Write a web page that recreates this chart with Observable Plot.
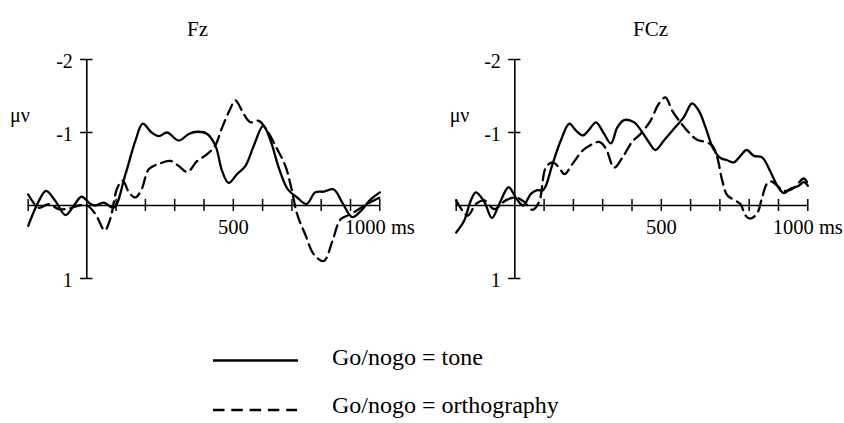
<!DOCTYPE html>
<html><head><meta charset="utf-8">
<script src="https://cdn.jsdelivr.net/npm/d3@7"></script>
<script src="https://cdn.jsdelivr.net/npm/@observablehq/plot@0.6"></script>
<style>
body{margin:0;background:#fff;}
#wrap{position:relative;width:844px;height:423px;overflow:hidden;font-family:'Liberation Serif','Tinos','Times New Roman','DejaVu Serif',serif;color:#000;}
#wrap > svg{position:absolute;}
#wrap text{font-family:'Liberation Serif','Tinos','Times New Roman','DejaVu Serif',serif !important;}
</style></head><body><div id="wrap"></div>
<script>
// ---- data ----
const panelNames = ["Fz", "FCz"];
const seriesNames = ["Go/nogo = tone", "Go/nogo = orthography"];
const xTickValues = [-200, 100, 200, 300, 400, 500, 600, 700, 800, 900, 1000];
const xLabelValues = [500, 1000];
const xLabelTexts = ["500", "1000 ms"];
const yTickValues = [-2, -1, 1];
const yTickLabels = ["-2", "-1", "1"];
const unitLabel = "μν";

// Fz, tone (solid)
const fzToneT = [-200,-164,-139,-107,-73,-44,-18,13,30,58,92,132,166,191,221,246,274,314,348,377,411,439,462,484,513,541,570,602,627,655,686,718,750,780,809,843,872,906,934,968,1000];
const fzToneV = [0.28,-0.06,-0.2,-0.06,0.13,0,-0.12,-0.02,0,-0.04,0.03,-0.43,-0.89,-1.12,-1.0,-0.95,-1.0,-0.89,-0.98,-1.01,-0.98,-0.82,-0.47,-0.31,-0.43,-0.54,-0.82,-1.09,-0.89,-0.52,-0.22,-0.11,-0.02,-0.18,-0.19,-0.22,-0.04,0.16,0.08,-0.08,-0.18];
// Fz, orthography (dashed)
const fzOrthT = [-200,-164,-130,-96,-61,-27,1,30,61,81,104,123,144,166,187,212,246,286,314,343,377,410,438,460,487,507,536,559,587,616,650,678,698,718,746,775,809,838,866,900,957,1000];
const fzOrthV = [-0.15,0.03,-0.02,0.05,0.04,0,0,0.12,0.34,0.17,-0.24,-0.34,-0.18,-0.11,-0.22,-0.5,-0.57,-0.61,-0.54,-0.46,-0.61,-0.7,-0.82,-1.05,-1.3,-1.44,-1.25,-1.14,-1.16,-1.02,-0.77,-0.54,-0.24,0.12,0.4,0.67,0.76,0.49,0.19,0.12,-0.02,-0.11];
// FCz, tone (solid)
const fczToneT = [-200,-173,-150,-133,-104,-78,-53,-21,6,29,55,77,97,129,157,186,208,233,254,277,305,328,350,373,407,429,457,480,509,543,577,605,628,651,677,702,725,747,770,791,816,844,873,896,918,941,969,986,1000];
const fczToneV = [0.37,0.21,-0.07,-0.18,-0.05,0.17,-0.02,-0.25,-0.09,0,-0.16,-0.21,-0.21,-0.57,-0.89,-1.12,-1.03,-0.96,-1.04,-1.14,-0.98,-0.85,-1.07,-1.17,-1.14,-1.04,-0.87,-0.76,-0.89,-1.05,-1.21,-1.40,-1.30,-1.07,-0.78,-0.65,-0.62,-0.59,-0.68,-0.76,-0.68,-0.66,-0.46,-0.27,-0.17,-0.23,-0.27,-0.32,-0.27];
// FCz, orthography (dashed)
const fczOrthT = [-200,-161,-133,-104,-70,-31,3,32,60,83,106,129,151,169,197,231,265,288,311,339,368,400,429,463,491,514,537,565,594,622,651,674,691,708,725,747,770,788,804,827,844,861,875,896,918,952,986,1000];
const fczOrthV = [-0.07,0.14,-0.02,-0.07,0.05,-0.07,-0.11,-0.05,0.06,-0.05,-0.52,-0.59,-0.52,-0.43,-0.57,-0.75,-0.84,-0.87,-0.78,-0.52,-0.66,-0.87,-0.98,-1.16,-1.39,-1.48,-1.3,-1.14,-1.0,-0.9,-0.87,-0.82,-0.66,-0.34,-0.14,-0.08,-0.02,0.14,0.18,0.11,-0.11,-0.30,-0.33,-0.27,-0.2,-0.24,-0.37,-0.3];

// ---- build ----
const FONT = "'Liberation Serif','Tinos','Times New Roman','DejaVu Serif',serif";
const DASH = "11,6";
const toRows = (T, V) => T.map((t, i) => ({t, v: V[i]}));

const layout = [
  {left: 0,   marginLeft: 27.7, marginRight: 42.7, titleDx: -6.5, muDx: -8.4},
  {left: 422, marginLeft: 33.7, marginRight: 36.7, titleDx: 18.5, muDx: 3.3}
];
const series = [
  [toRows(fzToneT, fzToneV), toRows(fzOrthT, fzOrthV)],
  [toRows(fczToneT, fczToneV), toRows(fczOrthT, fczOrthV)]
];

const wrap = document.getElementById("wrap");

panelNames.forEach((name, p) => {
  const L = layout[p];
  const [tone, orth] = series[p];
  const svg = Plot.plot({
    width: 422, height: 300,
    marginLeft: L.marginLeft, marginRight: L.marginRight, marginTop: 59, marginBottom: 22,
    x: {domain: [-200, 1000], axis: null},
    y: {domain: [-2, 1], reverse: true, axis: null},
    style: {fontFamily: FONT, fontSize: "20px", background: "transparent", overflow: "visible", color: "#000"},
    marks: [
      Plot.ruleY([0], {x1: -200, x2: 1000, strokeWidth: 1.6}),
      Plot.ruleX([0], {y1: -2, y2: 1, strokeWidth: 1.6}),
      Plot.ruleX(xTickValues, {x: d => d, y1: -0.082, y2: 0.082, strokeWidth: 1.5}),
      Plot.ruleY(yTickValues, {y: d => d, x1: -21, x2: 21, strokeWidth: 1.5}),
      Plot.text(yTickValues, {x: 0, y: d => d, text: (d, i) => yTickLabels[i], textAnchor: "end", dx: -14, dy: 2, fontSize: 20, fontFamily: FONT}),
      Plot.text(xLabelValues, {x: d => d, y: 0, text: (d, i) => xLabelTexts[i], dy: 22, fontSize: 20.5, fontFamily: FONT}),
      Plot.line(tone, {x: "t", y: "v", curve: "catmull-rom", strokeWidth: 2.3}),
      Plot.line(orth, {x: "t", y: "v", curve: "catmull-rom", strokeWidth: 2.3, strokeDasharray: DASH}),
      Plot.text([name], {frameAnchor: "top", dx: L.titleDx, dy: -38, fontSize: 21, fontFamily: FONT}),
      Plot.text([unitLabel], {frameAnchor: "top-left", dx: L.muDx, dy: 48, textAnchor: "middle", fontSize: 20, fontFamily: FONT})
    ]
  });
  svg.style.left = L.left + "px";
  svg.style.top = "0px";
  wrap.appendChild(svg);
});

// ---- legend ----
const leg = d3.create("svg")
  .attr("width", 844).attr("height", 123)
  .style("left", "0px").style("top", "300px")
  .style("font-family", FONT);
const legY = [60.5, 110];
const legBase = [65, 113];
seriesNames.forEach((s, i) => {
  leg.append("line")
    .attr("x1", 213).attr("x2", i === 0 ? 298 : 297)
    .attr("y1", legY[i]).attr("y2", legY[i])
    .attr("stroke", "#000").attr("stroke-width", 2.6)
    .attr("stroke-dasharray", i === 0 ? null : "11.5,6.8");
  leg.append("text")
    .attr("x", 332).attr("y", legBase[i])
    .attr("font-size", 24).attr("fill", "#000")
    .attr("font-family", FONT)
    .text(s);
});
wrap.appendChild(leg.node());
</script>
</body></html>
